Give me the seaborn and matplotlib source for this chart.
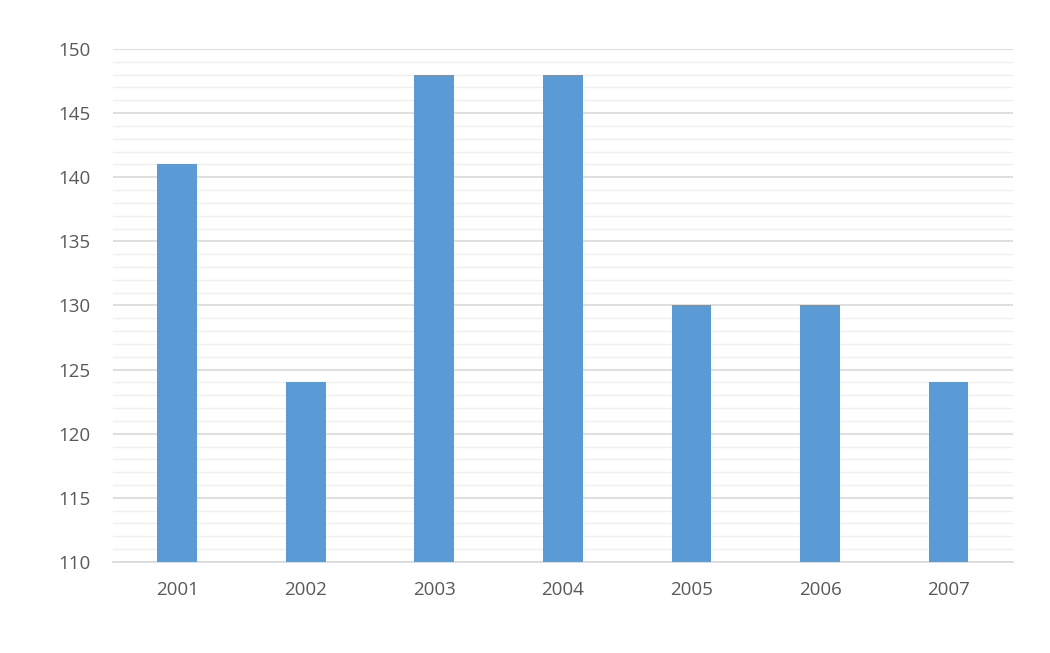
import numpy as np
import pandas as pd
import matplotlib.pyplot as plt
import seaborn as sns
from matplotlib.ticker import MultipleLocator

sns.set_theme(style='white')
plt.rcParams['font.family'] = ['Open Sans', 'DejaVu Sans']

years = ['2001', '2002', '2003', '2004', '2005', '2006', '2007']
values = [141, 124, 148, 148, 130, 130, 124]

df = pd.DataFrame({'year': years, 'value': values})

fig = plt.figure(figsize=(10.5, 6.53), dpi=100)
ax = fig.add_axes([0.1076, 0.1394, 0.857, 0.7856])

sns.barplot(data=df, x='year', y='value', ax=ax, color='#5B9BD5',
            width=0.31, saturation=1, linewidth=0, zorder=3)

ax.set_ylim(110, 150)
ax.yaxis.set_major_locator(MultipleLocator(5))
ax.yaxis.set_minor_locator(MultipleLocator(1))
ax.grid(axis='y', which='major', color='#D9D9D9', linewidth=1.2, zorder=0)
ax.grid(axis='y', which='minor', color='#EFEFEF', linewidth=1.0, zorder=0)
ax.set_axisbelow(True)

for s in ['top', 'right', 'left']:
    ax.spines[s].set_visible(False)
ax.spines['bottom'].set_color('#D9D9D9')
ax.spines['bottom'].set_linewidth(1.2)

ax.tick_params(axis='both', which='both', length=0, labelsize=13.5,
               labelcolor='#595959')
ax.tick_params(axis='x', pad=14)
ax.tick_params(axis='y', pad=16)
ax.set_xlabel('')
ax.set_ylabel('')

fig.savefig('out.png', dpi=100)
